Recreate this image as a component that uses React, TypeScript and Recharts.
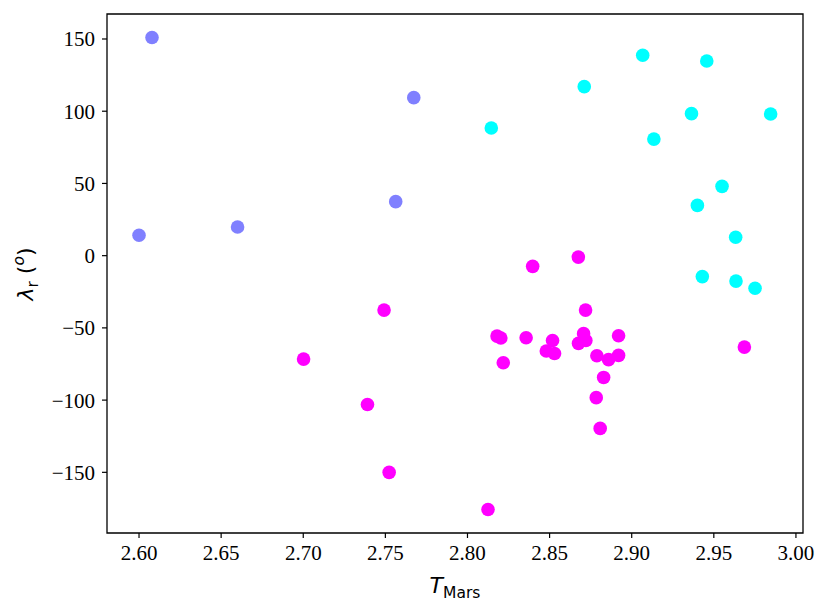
import React from 'react'
import { ScatterChart, Scatter, XAxis, YAxis, ReferenceArea } from 'recharts'

const X_TICKS = [2.6, 2.65, 2.7, 2.75, 2.8, 2.85, 2.9, 2.95, 3.0]
const Y_TICKS = [-150, -100, -50, 0, 50, 100, 150]
const X_DOMAIN = [2.5805, 3.0043]
const Y_DOMAIN = [-192, 167.3]

// three groups, coloured by the "cool" colormap
const blueT = [2.6079, 2.6, 2.66, 2.7563, 2.7673]
const blueLambda = [151, 14.1, 19.8, 37.4, 109.4]

const cyanT = [2.8145, 2.8711, 2.9067, 2.9457, 2.9364, 2.9846, 2.9135, 2.955, 2.94, 2.9633, 2.943, 2.9635, 2.9751]
const cyanLambda = [88.4, 117, 138.7, 134.8, 98.3, 98.1, 80.7, 48, 34.8, 12.7, -14.5, -17.6, -22.6]

const magentaT = [
  2.8397, 2.8675, 2.7492, 2.7002, 2.7391, 2.7523, 2.8719, 2.818, 2.8203, 2.8357, 2.8518, 2.8707,
  2.8721, 2.8676, 2.892, 2.848, 2.853, 2.8218, 2.8788, 2.8859, 2.892, 2.8829, 2.8784, 2.8808,
  2.9686, 2.8125,
]
const magentaLambda = [
  -7.4, -1.0, -37.7, -71.6, -103, -150, -37.7, -55.7, -57, -56.8, -58.7, -54,
  -58.7, -60.7, -55.4, -66, -67.7, -74.1, -69.3, -72, -69, -84.3, -98.3, -119.6,
  -63.3, -175.7,
]

const zip = (t: number[], l: number[]) => t.map((x, i) => ({ t: x, lambda: l[i] }))

const dot = (fill: string) => (props: any) => (
  <circle cx={props.cx} cy={props.cy} r={6.8} fill={fill} />
)

const yFmt = (v: number) => (v < 0 ? '\u2212' + Math.abs(v) : String(v))

const tickStyle = { fill: '#000', fontSize: 21, fontFamily: 'Liberation Serif' }

const XLabel = () => (
  <text x={455} y={593} textAnchor="middle" fontFamily="DejaVu Sans" fill="#000">
    <tspan fontSize={22} fontStyle="italic">T</tspan>
    <tspan fontSize={15.5} dy={5}>Mars</tspan>
  </text>
)

const YLabel = () => (
  <text
    x={0}
    y={0}
    transform="translate(33 274) rotate(-90)"
    textAnchor="middle"
    fontFamily="DejaVu Sans"
    fill="#000"
  >
    <tspan fontSize={22} fontStyle="italic">λ</tspan>
    <tspan fontSize={15.5} dy={5}>r</tspan>
    <tspan fontSize={22} dy={-5}> (</tspan>
    <tspan fontSize={15.5} fontStyle="italic" dy={-9}>o</tspan>
    <tspan fontSize={22} dy={9}>)</tspan>
  </text>
)

export default function App() {
  return (
    <div style={{ position: 'absolute', left: 0, top: 0, background: '#fff' }}>
      <ScatterChart width={831} height={613} margin={{ top: 14, right: 28, bottom: 0, left: 0 }}>
        <XAxis
          type="number"
          dataKey="t"
          domain={X_DOMAIN}
          ticks={X_TICKS}
          tickFormatter={(v: number) => v.toFixed(2)}
          allowDataOverflow
          height={80}
          axisLine={false}
          tickLine={{ stroke: '#000', strokeWidth: 1.2 }}
          tickSize={5}
          tickMargin={7}
          tick={tickStyle}
          label={{ content: XLabel }}
        />
        <YAxis
          type="number"
          dataKey="lambda"
          domain={Y_DOMAIN}
          ticks={Y_TICKS}
          tickFormatter={yFmt}
          allowDataOverflow
          width={107}
          axisLine={false}
          tickLine={{ stroke: '#000', strokeWidth: 1.2 }}
          tickSize={5}
          tickMargin={7}
          tick={tickStyle}
          label={{ content: YLabel }}
        />
        <ReferenceArea
          x1={X_DOMAIN[0]}
          x2={X_DOMAIN[1]}
          y1={Y_DOMAIN[0]}
          y2={Y_DOMAIN[1]}
          fill="none"
          stroke="#000"
          strokeWidth={1.3}
          fillOpacity={0}
          strokeOpacity={1}
        />
        <Scatter data={zip(blueT, blueLambda)} shape={dot('#8080ff')} isAnimationActive={false} />
        <Scatter data={zip(cyanT, cyanLambda)} shape={dot('#00ffff')} isAnimationActive={false} />
        <Scatter data={zip(magentaT, magentaLambda)} shape={dot('#ff00ff')} isAnimationActive={false} />
      </ScatterChart>
    </div>
  )
}
